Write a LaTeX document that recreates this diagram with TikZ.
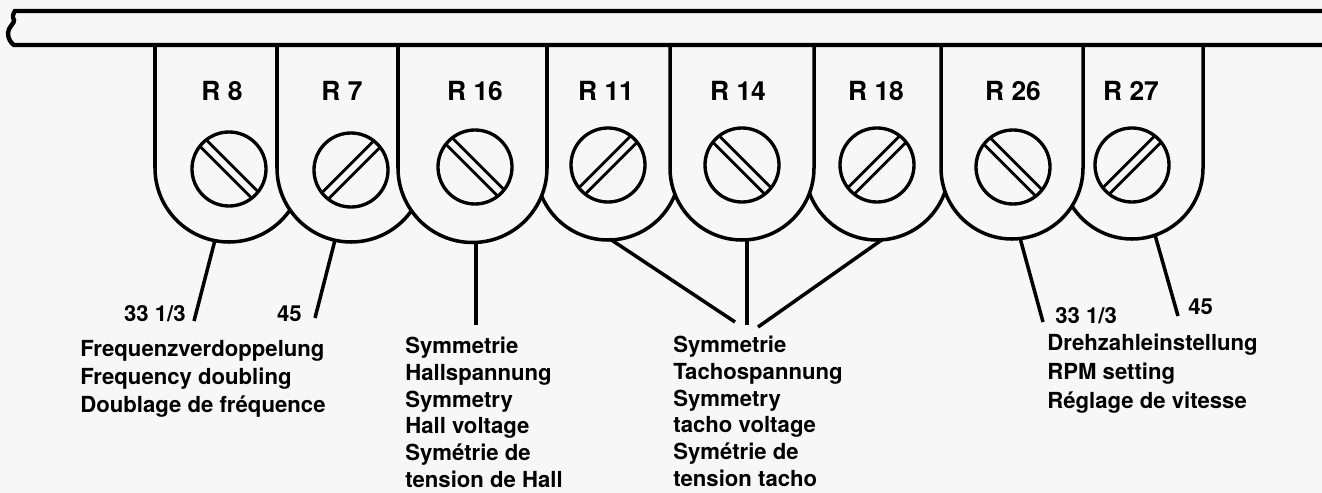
\documentclass[tikz,border=0pt]{standalone}
\usepackage{fontspec}
\setmainfont{TeX Gyre Heros}
\definecolor{paper}{RGB}{247,247,247}

\begin{document}
\begin{tikzpicture}[x=0.02cm, y=-0.02cm,
    tab/.style={draw, fill=paper, line width=2pt},
    bar/.style={line width=2.5pt},
    lead/.style={line width=2pt},
    rname/.style={font=\fontsize{15}{18}\selectfont\bfseries, anchor=base},
    txt/.style={font=\fontsize{12.6}{15.2}\selectfont\bfseries, align=left, anchor=north west, inner sep=0pt},
    speed/.style={font=\fontsize{12.6}{15.2}\selectfont\bfseries, inner sep=0pt},
    screw/.pic={
      \draw[line width=1.9pt] (0,0) circle[radius=37];
      \draw[line width=1.6pt] (-36.5,-4.5) -- (36.5,-4.5) (-36.5,4.5) -- (36.5,4.5);
    }]
\useasboundingbox[fill=paper] (0,0) rectangle (1322,493);

% tabs lying behind their neighbours
\draw[tab] (155,45) -- (155,168) arc[start angle=180, end angle=0, radius=74] -- (303,45);
\draw[tab] (536,45) -- (536,168) arc[start angle=180, end angle=0, radius=72] -- (680,45);
\draw[tab] (805,45) -- (805,168) arc[start angle=180, end angle=0, radius=72] -- (949,45);
\draw[tab] (1061,45) -- (1061,168) arc[start angle=180, end angle=0, radius=71] -- (1203,45);
% tabs in front
\draw[tab] (277,45) -- (277,168) arc[start angle=180, end angle=0, radius=74] -- (425,45);
\draw[tab] (398,45) -- (398,168) arc[start angle=180, end angle=0, radius=74.5] -- (547,45);
\draw[tab] (670,45) -- (670,168) arc[start angle=180, end angle=0, radius=72] -- (814,45);
\draw[tab] (941,45) -- (941,168) arc[start angle=180, end angle=0, radius=71] -- (1083,45);

% mounting strip, broken off at the left
\draw[bar] (1322,11) -- (15,11) .. controls (13,14) and (12,17) .. (14,20)
  .. controls (15,23) and (8,27) .. (8,33) .. controls (8,39) and (11,43) .. (14,45) -- (1322,45);

% trimmers
\node[rname] (r8) at (222,101) {R 8};
\node[rname] (r7) at (342,101) {R 7};
\node[rname] (r16) at (475,101) {R 16};
\node[rname] (r11) at (606,101) {R 11};
\node[rname] (r14) at (738,101) {R 14};
\node[rname] (r18) at (876,101) {R 18};
\node[rname] (r26) at (1013,101) {R 26};
\node[rname] (r27) at (1131,101) {R 27};

\pic[rotate=-45] at (229,169) {screw};
\pic[rotate=45] at (351,170) {screw};
\pic[rotate=-45] at (475,167) {screw};
\pic[rotate=45] at (608,165) {screw};
\pic[rotate=-45] at (742,165) {screw};
\pic[rotate=45] at (877,165) {screw};
\pic[rotate=-45] at (1013,167) {screw};
\pic[rotate=45] at (1132,165) {screw};

% labels
\node[speed, anchor=base east] (slow8) at (186,321) {33 1/3};
\node[speed, anchor=base east] (fast7) at (302,321) {45};
\node[txt, font=\fontsize{12.6}{16}\selectfont\bfseries] (freq) at (80,340)
  {Frequenzverdoppelung\\Frequency doubling\\Doublage de fréquence};
\node[txt] (hall) at (405,337)
  {Symmetrie\\Hallspannung\\Symmetry\\Hall voltage\\Symétrie de\\tension de Hall};
\node[txt] (tacho) at (673,336)
  {Symmetrie\\Tachospannung\\Symmetry\\tacho voltage\\Symétrie de\\tension tacho};
\node[speed, anchor=base west] (slow26) at (1055,323) {33 1/3};
\node[speed, anchor=base west] (fast27) at (1188,315) {45};
\node[txt, font=\fontsize{12.6}{16.4}\selectfont\bfseries] (rpm) at (1047,334)
  {Drehzahleinstellung\\RPM setting\\Réglage de vitesse};

% leader lines
\coordinate (t8) at (215,240);
\coordinate (e8) at (194,321);
\coordinate (t7) at (335,240);
\coordinate (e7) at (315,318);
\coordinate (t16) at (476,242);
\coordinate (e16) at (476,325);
\coordinate (t11) at (610,239);
\coordinate (e11) at (735,322);
\coordinate (t14) at (747,239);
\coordinate (e14) at (747,325);
\coordinate (t18) at (883,239);
\coordinate (e18) at (758,327);
\coordinate (t26) at (1020,238);
\coordinate (e26) at (1043,322);
\coordinate (t27) at (1155,235);
\coordinate (e27) at (1178,316);
\draw[lead] (t8) -- (e8);
\draw[lead] (t7) -- (e7);
\draw[lead] (t16) -- (e16);
\draw[lead] (t11) -- (e11);
\draw[lead] (t14) -- (e14);
\draw[lead] (t18) -- (e18);
\draw[lead] (t26) -- (e26);
\draw[lead] (t27) -- (e27);
\end{tikzpicture}
\end{document}
